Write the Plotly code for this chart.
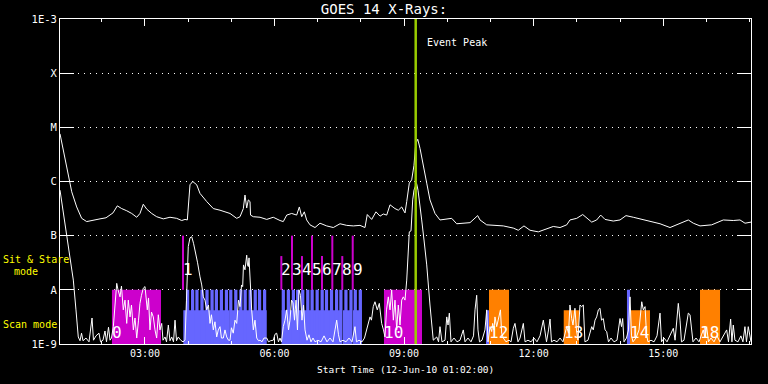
import numpy as np
import pandas as pd
import plotly.graph_objects as go

DAY = "2010-06-12"
START = pd.Timestamp(f"{DAY} 01:02:00")
END = pd.Timestamp(f"{DAY} 17:02:00")

# GOES 14 long channel (1-8 A): (minutes after 01:02, log10 flux W/m^2)
long_pts = [
    (0, -5.12), (9.3, -5.73), (16.3, -6.19), (23.2, -6.47), (30.1, -6.68), (37.1, -6.74),
    (45.8, -6.71), (55.6, -6.69), (63.9, -6.67), (73.6, -6.58), (79.6, -6.45), (85.7, -6.50),
    (92.7, -6.54), (99.6, -6.59), (106.6, -6.66), (111.1, -6.59), (115.7, -6.42), (120.5, -6.51),
    (127.4, -6.59), (134.3, -6.65), (143.5, -6.69), (152.8, -6.66), (162.1, -6.68), (169.1, -6.72),
    (173.7, -6.70), (176.9, -6.71), (180.6, -6.06), (184.4, -6.00), (189.9, -6.06), (194.5, -6.22),
    (203.8, -6.37), (213.0, -6.50), (222.3, -6.53), (236.2, -6.59), (245.5, -6.68), (250.1, -6.65),
    (254.7, -6.50), (257.0, -6.25), (259.4, -6.49), (261.6, -6.34), (264.0, -6.37), (264.7, -6.62),
    (268.6, -6.65), (277.9, -6.66), (287.2, -6.70), (296.3, -6.66), (305.6, -6.72), (310.2, -6.74),
    (315.0, -6.62), (321.9, -6.59), (328.8, -6.62), (332.5, -6.47), (335.8, -6.65), (339.4, -6.56),
    (342.7, -6.71), (347.3, -6.80), (354.3, -6.85), (361.2, -6.77), (370.5, -6.82), (379.7, -6.85),
    (389.0, -6.78), (398.3, -6.81), (407.5, -6.82), (416.8, -6.81), (423.7, -6.85), (426.9, -6.61),
    (433.0, -6.70), (439.0, -6.56), (444.6, -6.64), (449.2, -6.60), (453.9, -6.62), (458.5, -6.43),
    (465.4, -6.50), (470.0, -6.53), (474.7, -6.47), (479.3, -6.58), (481.7, -6.37), (485.3, -6.03),
    (488.6, -5.97), (491.8, -5.70), (494.2, -5.30), (497.0, -5.22), (500.2, -5.39), (504.7, -5.73),
    (509.5, -6.03), (514.0, -6.34), (521.0, -6.59), (527.9, -6.71), (537.3, -6.70), (544.2, -6.68),
    (551.1, -6.78), (560.3, -6.77), (569.6, -6.76), (580.3, -6.63), (583.5, -6.71), (592.8, -6.80),
    (606.7, -6.82), (615.9, -6.82), (629.8, -6.86), (636.7, -6.90), (644.6, -6.82), (653.0, -6.90),
    (664.5, -6.93), (673.8, -6.88), (685.3, -6.83), (694.7, -6.85), (704.0, -6.80), (708.5, -6.71),
    (717.9, -6.68), (726.2, -6.61), (731.7, -6.68), (738.7, -6.75), (745.6, -6.71), (751.2, -6.62),
    (757.2, -6.70), (768.7, -6.73), (778.0, -6.71), (786.3, -6.63), (796.5, -6.66), (810.4, -6.70),
    (819.7, -6.74), (833.6, -6.78), (847.5, -6.85), (856.8, -6.80), (866.0, -6.76), (872.9, -6.71),
    (879.9, -6.77), (889.2, -6.82), (905.4, -6.80), (914.6, -6.75), (921.5, -6.71), (935.4, -6.72),
    (944.7, -6.71), (951.7, -6.77), (960.0, -6.75),
]

# GOES 14 short channel (0.5-4 A): (minutes after 01:02, log10 flux W/m^2)
short_pts = [
    (0, -6.16), (9.3, -7.02), (13.9, -7.39), (18.5, -7.82), (22.2, -8.37), (24.0, -8.68),
    (25.4, -8.87), (27.8, -8.94), (29.9, -8.80), (32.0, -8.94), (36.1, -8.89), (40.3, -8.96),
    (44.5, -8.52), (46.5, -8.93), (50.0, -8.85), (54.2, -8.80), (56.3, -8.96), (59.7, -8.93),
    (62.5, -8.76), (64.6, -8.96), (67.4, -8.69), (69.5, -8.93), (71.5, -8.89), (74.1, -8.68),
    (76.4, -8.19), (78.8, -7.88), (80.6, -8.00), (83.4, -8.13), (85.4, -7.93), (87.9, -8.37),
    (90.3, -8.19), (92.7, -8.62), (94.9, -8.19), (97.3, -8.50), (99.3, -8.28), (101.9, -8.74),
    (104.2, -8.52), (106.6, -8.89), (109.1, -8.56), (111.1, -8.25), (113.2, -8.10), (115.7, -7.97),
    (118.1, -7.94), (119.4, -8.19), (121.3, -8.37), (123.0, -8.15), (125.0, -8.74), (127.1, -8.41),
    (129.6, -8.50), (132.0, -8.74), (134.3, -8.89), (136.6, -8.46), (138.9, -8.74), (141.3, -8.62),
    (143.1, -8.93), (145.9, -8.87), (148.0, -8.96), (150.5, -8.65), (152.8, -8.94), (155.2, -8.87),
    (157.7, -8.96), (159.8, -8.56), (161.9, -8.94), (164.3, -8.87), (167.7, -8.93), (170.9, -8.96),
    (173.7, -8.93), (175.7, -8.19), (178.2, -7.20), (180.6, -7.04), (183.0, -7.02), (185.5, -7.14),
    (187.6, -7.26), (191.0, -7.49), (194.5, -7.76), (196.9, -7.91), (199.1, -8.13), (201.4, -8.19),
    (203.8, -8.37), (206.3, -8.28), (208.4, -8.62), (210.4, -8.46), (213.0, -8.74), (215.3, -8.59),
    (217.7, -8.87), (219.9, -8.74), (222.3, -8.68), (224.3, -8.89), (226.9, -8.89), (229.2, -8.74),
    (231.6, -8.87), (234.1, -8.93), (236.2, -8.93), (238.2, -8.70), (240.7, -8.80), (243.1, -8.56),
    (245.5, -8.62), (248.0, -8.19), (250.1, -8.31), (252.2, -7.91), (253.8, -7.94), (254.9, -7.54),
    (257.0, -7.63), (259.4, -7.36), (260.5, -7.54), (261.6, -7.57), (262.6, -7.41), (264.0, -7.82),
    (266.3, -8.37), (268.6, -8.74), (270.9, -8.56), (273.3, -8.89), (275.8, -8.94), (277.9, -8.93),
    (280.6, -8.96), (283.4, -8.89), (287.2, -8.89), (289.7, -8.96), (292.4, -8.94), (296.3, -8.93),
    (298.7, -8.82), (301.0, -8.80), (303.5, -8.96), (305.6, -8.89), (307.7, -8.96), (310.2, -8.68),
    (312.6, -8.56), (315.0, -8.37), (317.5, -8.74), (319.5, -8.56), (321.6, -8.19), (323.7, -8.24),
    (325.8, -8.56), (327.9, -8.19), (329.9, -8.74), (332.0, -8.00), (334.1, -8.10), (336.2, -8.56),
    (338.3, -8.28), (340.4, -8.74), (343.2, -8.93), (345.9, -8.83), (348.7, -8.96), (351.5, -8.89),
    (354.3, -8.96), (358.4, -8.93), (362.6, -8.96), (366.8, -8.85), (370.9, -8.96), (375.1, -8.89),
    (379.3, -8.96), (382.1, -8.74), (384.4, -8.56), (386.9, -8.83), (389.0, -8.96), (393.2, -8.93),
    (397.3, -8.96), (401.5, -8.89), (405.7, -8.96), (409.8, -8.68), (411.9, -8.96), (415.4, -8.93),
    (419.6, -8.96), (423.0, -8.89), (426.1, -8.74), (428.6, -8.65), (430.7, -8.50), (432.7, -8.56),
    (435.2, -8.31), (437.6, -8.22), (440.8, -8.37), (443.6, -8.25), (446.9, -8.62), (449.4, -8.74),
    (451.5, -8.87), (453.6, -8.37), (456.1, -8.13), (458.5, -8.37), (460.8, -8.00), (463.1, -8.56),
    (465.4, -8.19), (467.8, -8.74), (470.0, -8.28), (472.4, -8.65), (474.7, -8.19), (477.0, -8.13),
    (479.3, -8.19), (481.7, -7.82), (483.9, -7.08), (485.3, -6.93), (487.7, -6.91), (490.0, -6.34),
    (491.8, -6.16), (495.3, -6.03), (497.4, -6.16), (500.2, -6.43), (502.5, -6.71), (505.7, -7.08),
    (509.5, -7.54), (514.0, -8.28), (516.8, -8.65), (518.6, -8.93), (523.4, -8.87), (525.9, -8.96),
    (527.9, -8.68), (530.7, -8.96), (534.9, -8.93), (537.3, -8.50), (539.1, -8.65), (540.9, -8.43),
    (543.2, -8.96), (547.4, -8.89), (551.6, -8.96), (555.7, -8.93), (560.3, -8.74), (562.7, -8.96),
    (566.8, -8.89), (571.0, -8.96), (574.5, -8.85), (576.6, -8.37), (578.9, -8.10), (580.7, -8.74),
    (582.8, -8.96), (586.3, -8.93), (590.4, -8.74), (592.8, -8.37), (594.6, -8.96), (597.4, -8.68),
    (599.7, -8.77), (601.1, -8.62), (602.9, -8.74), (604.3, -8.50), (606.7, -8.68), (608.5, -8.56),
    (610.3, -8.50), (611.9, -8.37), (613.6, -8.80), (615.9, -8.89), (619.6, -8.96), (623.8, -8.93),
    (626.6, -8.96), (629.8, -8.71), (632.1, -8.62), (634.2, -8.83), (636.3, -8.96), (639.1, -8.89),
    (643.7, -8.62), (646.1, -8.96), (650.2, -8.93), (654.4, -8.96), (658.6, -8.89), (662.7, -8.96),
    (666.9, -8.85), (671.5, -8.56), (673.8, -8.74), (675.9, -8.96), (678.7, -8.74), (680.8, -8.54),
    (682.8, -8.96), (686.3, -8.93), (690.5, -8.96), (694.7, -8.89), (698.8, -8.96), (701.6, -8.83),
    (704.0, -8.68), (706.5, -8.80), (708.5, -8.28), (710.9, -8.53), (712.7, -8.65), (715.4, -8.34),
    (717.5, -8.74), (719.6, -8.93), (722.4, -8.28), (724.7, -8.31), (727.0, -8.28), (729.3, -8.96),
    (733.5, -8.93), (738.7, -8.68), (740.9, -8.74), (743.3, -8.56), (745.6, -8.50), (747.9, -8.37),
    (750.2, -8.34), (752.3, -8.56), (754.8, -8.53), (757.2, -8.74), (759.5, -8.77), (762.0, -8.96),
    (765.5, -8.89), (769.7, -8.96), (773.8, -8.93), (778.0, -8.53), (780.1, -8.68), (781.7, -8.53),
    (783.6, -8.96), (787.0, -8.89), (789.8, -8.74), (791.9, -8.13), (794.0, -8.85), (796.1, -8.96),
    (800.2, -8.89), (804.4, -8.74), (808.2, -8.22), (810.4, -8.37), (812.8, -8.31), (814.9, -8.83),
    (816.9, -8.96), (821.1, -8.93), (825.3, -8.96), (829.4, -8.85), (833.6, -8.43), (835.7, -8.96),
    (839.2, -8.89), (843.3, -8.96), (847.5, -8.83), (852.1, -8.71), (854.5, -8.93), (856.8, -8.56),
    (859.0, -8.25), (861.4, -8.56), (863.4, -8.96), (866.9, -8.93), (870.6, -8.59), (872.9, -8.43),
    (875.3, -8.46), (877.3, -8.67), (879.4, -8.96), (883.6, -8.89), (887.8, -8.96), (891.2, -8.83),
    (893.7, -8.74), (896.1, -8.89), (898.4, -8.68), (900.9, -8.96), (904.4, -8.89), (908.6, -8.96),
    (912.7, -8.85), (916.9, -8.96), (921.1, -8.85), (926.2, -8.74), (928.7, -8.96), (931.7, -8.54),
    (933.5, -8.96), (935.4, -8.65), (937.7, -8.93), (941.9, -8.96), (946.0, -8.85), (948.8, -8.96),
    (951.6, -8.68), (953.7, -8.96), (956.2, -8.68), (958.6, -8.89), (960.0, -8.96),
]

# Observation blocks
sit_stare_start = ["02:14:10", "08:32:05"]
sit_stare_end = ["03:22:20", "09:24:55"]
sit_stare_top = [1e-8, 1e-8]

scan_block_start = ["03:53:20", "04:59:20", "06:10:00", "07:35:10", "07:49:05"]
scan_block_end = ["04:57:30", "05:49:10", "07:33:30", "07:47:25", "08:01:10"]
scan_block_top = [4.2e-9, 4.2e-9, 4.2e-9, 4.2e-9, 4.2e-9]

raster_start = [
    "03:57", "04:04", "04:10", "04:17", "04:24", "04:31", "04:37", "04:44", "04:51",
    "04:57", "05:04", "05:11", "05:17", "05:24", "05:31", "05:37", "05:44",
    "06:10", "06:17", "06:24", "06:30", "06:37", "06:44", "06:50", "06:57", "07:04",
    "07:10", "07:17", "07:24", "07:30", "07:37", "07:44", "07:50", "07:57",
]
raster_seconds = 270
raster_top = 1e-8

thin_scan_start = ["10:53:50", "14:09:40"]
thin_scan_end = ["10:58:00", "14:13:55"]
thin_scan_top = [4.2e-9, 1e-8]

other_start = ["10:58:00", "12:41:50", "14:13:55", "15:51:10"]
other_end = ["11:25:50", "13:03:05", "14:41:40", "16:19:00"]
other_top = [1e-8, 4.2e-9, 4.2e-9, 1e-8]

marker_times = ["03:52:55", "06:09:30", "06:24:20", "06:38:10", "06:52:05",
                "07:06:00", "07:20:20", "07:34:10", "07:48:40"]
marker_tops = [1e-7, 4.2e-8, 1e-7, 4.2e-8, 1e-7, 4.2e-8, 1e-7, 4.2e-8, 1e-7]
marker_base = 1e-8

obs_labels = ["0", "1", "2", "3", "4", "5", "6", "7", "8", "9", "10", "12", "13", "14", "18"]
obs_label_times = ["02:14:10", "03:52:55", "06:09:30", "06:24:20", "06:38:10", "06:52:05",
                   "07:06:00", "07:20:20", "07:34:10", "07:48:40", "08:32:05", "10:58:00",
                   "12:41:50", "14:13:55", "15:51:10"]
obs_label_flux = [1.66e-9, 2.34e-8, 2.34e-8, 2.34e-8, 2.34e-8, 2.34e-8, 2.34e-8, 2.34e-8,
                  2.34e-8, 2.34e-8, 1.66e-9, 1.66e-9, 1.66e-9, 1.66e-9, 1.66e-9]

event_peak_time = "09:16:10"

ytick_vals = [1e-9, 1e-8, 1e-7, 1e-6, 1e-5, 1e-4, 1e-3]
ytick_text = ["1E-9", "A", "B", "C", "M", "X", "1E-3"]

FLOOR = 1e-9
TOP = 1e-3
MAGENTA = "#CC00CC"
BLUE = "#6666FF"
ORANGE = "#FF8000"
GREEN = "#99CC00"
YELLOW = "#FFFF00"
FONT = "DejaVu Sans Mono"


def ts(clock):
    return pd.Timestamp(f"{DAY} {clock}")


def fmt(t):
    return t.strftime("%Y-%m-%d %H:%M:%S")


def rect_trace(starts, ends, tops, color):
    xs, ys = [], []
    for s, e, top in zip(starts, ends, tops):
        s, e = fmt(ts(s)), fmt(ts(e))
        xs += [s, e, e, s, s, None]
        ys += [FLOOR, FLOOR, top, top, FLOOR, None]
    return go.Scatter(x=xs, y=ys, mode="lines", fill="toself", fillcolor=color,
                      line=dict(width=0, color=color), hoverinfo="skip", showlegend=False)


def curve(pts):
    t, lf = zip(*pts)
    x = START + pd.to_timedelta(np.array(t), unit="min")
    return x, 10.0 ** np.array(lf)


fig = go.Figure()

fig.add_trace(rect_trace(sit_stare_start, sit_stare_end, sit_stare_top, MAGENTA))
fig.add_trace(rect_trace(scan_block_start, scan_block_end, scan_block_top, BLUE))
r_end = [fmt(ts(r) + pd.Timedelta(seconds=raster_seconds))[11:] for r in raster_start]
fig.add_trace(rect_trace(raster_start, r_end, [raster_top] * len(raster_start), BLUE))
fig.add_trace(rect_trace(thin_scan_start, thin_scan_end, thin_scan_top, BLUE))
fig.add_trace(rect_trace(other_start, other_end, other_top, ORANGE))

mx, my = [], []
for t, top in zip(marker_times, marker_tops):
    mx += [fmt(ts(t)), fmt(ts(t)), None]
    my += [marker_base, top, None]
fig.add_trace(go.Scatter(x=mx, y=my, mode="lines", line=dict(color=MAGENTA, width=2),
                         hoverinfo="skip", showlegend=False))

lx, ly = curve(long_pts)
sx, sy = curve(short_pts)
fig.add_trace(go.Scatter(x=lx, y=ly, mode="lines", line=dict(color="white", width=1),
                         showlegend=False, name="1-8 A", hoverinfo="skip"))
fig.add_trace(go.Scatter(x=sx, y=sy, mode="lines", line=dict(color="white", width=1),
                         showlegend=False, name="0.5-4 A", hoverinfo="skip"))

fig.add_trace(go.Scatter(x=[fmt(ts(event_peak_time))] * 2, y=[FLOOR, TOP], mode="lines",
                         line=dict(color=GREEN, width=2.5), showlegend=False, hoverinfo="skip"))

annotations = []
for lab, t, f in zip(obs_labels, obs_label_times, obs_label_flux):
    annotations.append(dict(x=fmt(ts(t)), y=np.log10(f), xref="x", yref="y", text=lab,
                            showarrow=False, xanchor="left", yanchor="middle", xshift=-2,
                            font=dict(family=FONT, size=16, color="white")))

annotations.append(dict(x=fmt(ts(event_peak_time)), y=-3.44, xref="x", yref="y",
                        text="Event Peak", showarrow=False, xanchor="left", yanchor="middle",
                        xshift=9, font=dict(family=FONT, size=10, color="white")))

PW, PH = 691.0, 325.0
def px(xp):
    return (xp - 60) / PW
def py(yp):
    return (344 - yp) / PH

annotations += [
    dict(x=px(1), y=py(259), xref="paper", yref="paper", text="Sit & Stare", showarrow=False,
         xanchor="left", yanchor="middle", font=dict(family=FONT, size=10, color=YELLOW)),
    dict(x=px(12), y=py(271), xref="paper", yref="paper", text="mode", showarrow=False,
         xanchor="left", yanchor="middle", font=dict(family=FONT, size=10, color=YELLOW)),
    dict(x=px(1), y=py(324), xref="paper", yref="paper", text="Scan mode", showarrow=False,
         xanchor="left", yanchor="middle", font=dict(family=FONT, size=10, color=YELLOW)),
    dict(x=0.5, y=py(369), xref="paper", yref="paper", text="Start Time (12-Jun-10 01:02:00)",
         showarrow=False, xanchor="center", yanchor="middle",
         font=dict(family=FONT, size=9.5, color="white")),
]

fig.update_layout(
    width=768, height=384,
    margin=dict(l=60, r=17, t=19, b=40, autoexpand=False),
    paper_bgcolor="black", plot_bgcolor="black",
    title=dict(text="GOES 14 X-Rays:", x=0.5, xref="container", xanchor="center",
               y=1 - 9 / 384, yref="container", yanchor="middle",
               font=dict(family=FONT, size=14, color="white")),
    annotations=annotations,
    showlegend=False,
    hovermode=False,
    xaxis=dict(
        type="date", range=[fmt(START), fmt(END)],
        showline=True, linecolor="white", linewidth=1, mirror="ticks",
        ticks="inside", ticklen=7, tickcolor="white", tickwidth=1,
        tick0=f"{DAY} 00:00:00", dtick=3 * 3600 * 1000, tickformat="%H:%M",
        tickfont=dict(family=FONT, size=10, color="white"),
        showgrid=False, zeroline=False,
        minor=dict(ticks="inside", ticklen=3, tickcolor="white", dtick=3600 * 1000,
                   tick0=f"{DAY} 00:00:00", showgrid=False),
    ),
    yaxis=dict(
        type="log", range=[-9, -3],
        showline=True, linecolor="white", linewidth=1, mirror="ticks",
        ticks="inside", ticklen=14, tickcolor="white", tickwidth=1,
        tickvals=ytick_vals, ticktext=ytick_text,
        tickfont=dict(family=FONT, size=10.5, color="white"),
        showgrid=True, gridcolor="white", gridwidth=1, griddash="1px,5px",
        zeroline=False,
    ),
)

# remove the page's default body margin so the 768x384 figure fills the window exactly
fig.write_html(
    "out.html",
    config={"displayModeBar": False, "staticPlot": True},
    post_script="document.documentElement.style.margin='0';document.body.style.margin='0';"
                "document.body.style.overflow='hidden';document.body.style.background='black';",
)
